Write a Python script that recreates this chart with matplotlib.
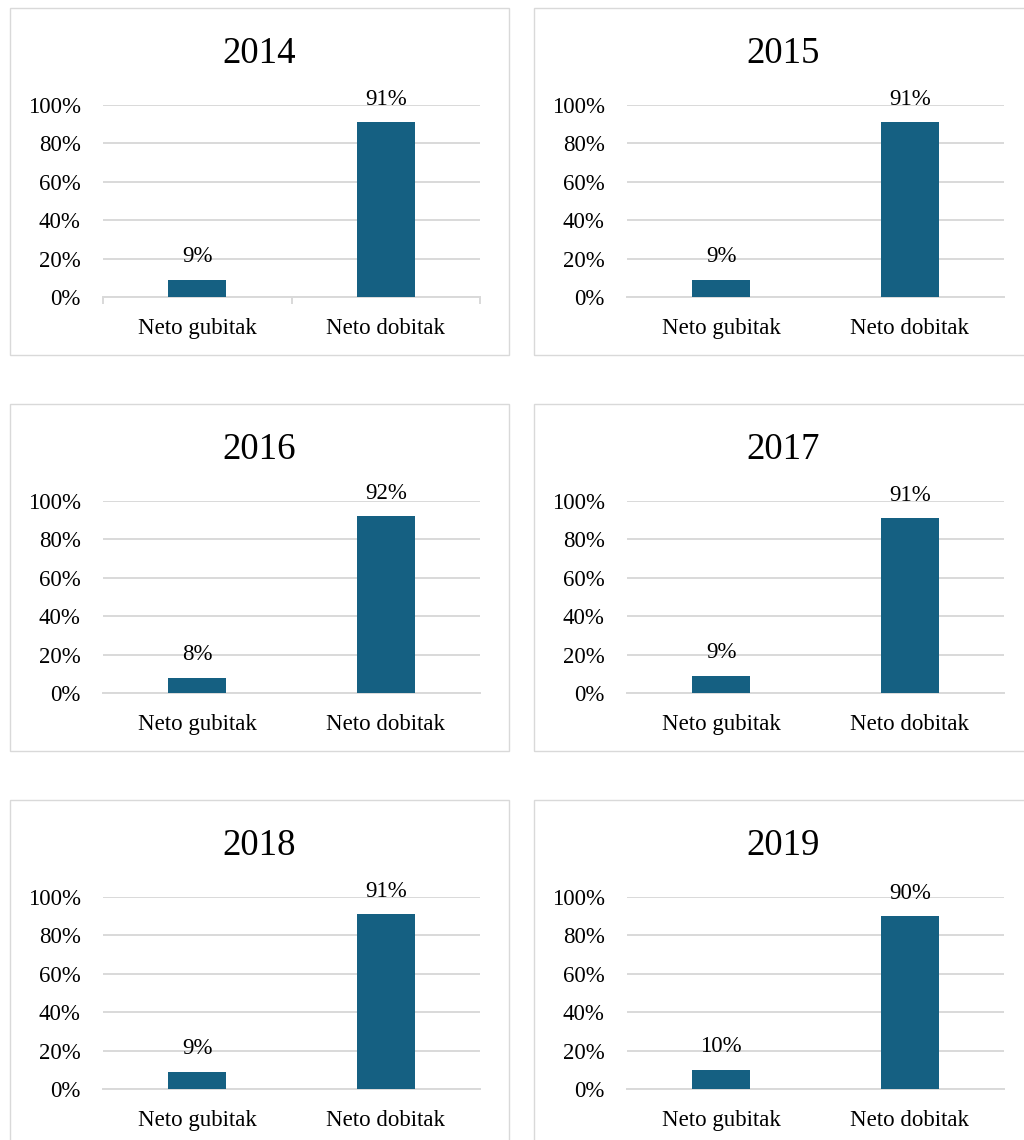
#!/usr/bin/env python3
"""Share of companies with net loss vs net profit, 2014-2019."""

import matplotlib.pyplot as plt
from matplotlib.patches import Rectangle
from matplotlib.ticker import PercentFormatter

YEARS = ['2014', '2015', '2016', '2017', '2018', '2019']
CATEGORIES = ['Neto gubitak', 'Neto dobitak']
GUBITAK = [9, 9, 8, 9, 9, 10]
DOBITAK = [91, 91, 92, 91, 91, 90]

W, H = 1024, 1140
BAR_COLOR = '#156082'
GRID_COLOR = '#d9d9d9'

plt.rcParams['font.family'] = ['Liberation Serif', 'DejaVu Serif']


def px_box(left, top, width, height):
    """Pixel rectangle (top-left origin) to figure fraction rect."""
    return [left / W, 1 - (top + height) / H, width / W, height / H]


fig = plt.figure(figsize=(W / 100, H / 100), dpi=100)

for i, year in enumerate(YEARS):
    row, col = divmod(i, 2)
    dy = row * 396
    box_left = 10 if col == 0 else 534
    ax_left = 103 if col == 0 else 627

    # panel frame (right/bottom panels run past the page edge)
    box = Rectangle((box_left / W, 1 - (355 + dy) / H), 499 / W, 347 / H,
                    transform=fig.transFigure, fill=False,
                    edgecolor=GRID_COLOR, linewidth=1.0)
    fig.patches.append(box)

    fig.text((box_left + 249.5) / W, 1 - (63 + dy) / H, year,
             ha='center', va='baseline', fontsize=26.5)

    ax = fig.add_axes(px_box(ax_left, 105 + dy, 377, 192))
    vals = [GUBITAK[i] / 100, DOBITAK[i] / 100]
    bars = ax.bar(range(2), vals, width=0.31, color=BAR_COLOR, zorder=3)
    for b, v in zip(bars, vals):
        ax.annotate(f'{round(v * 100)}%', (b.get_x() + b.get_width() / 2, v),
                    xytext=(0, 9), textcoords='offset points',
                    ha='center', va='bottom', fontsize=16.5, annotation_clip=False)

    ax.set_xlim(-0.5, 1.5)
    ax.set_ylim(0, 1)
    ax.set_yticks([0, 0.2, 0.4, 0.6, 0.8, 1.0])
    ax.yaxis.set_major_formatter(PercentFormatter(1.0, decimals=0))
    ax.grid(axis='y', color=GRID_COLOR, linewidth=1.4, zorder=0)
    ax.set_xticks(range(2))
    ax.set_xticklabels(CATEGORIES)
    ax.tick_params(axis='y', length=0, pad=16, labelsize=16.5)
    ax.tick_params(axis='x', length=0, pad=15, labelsize=16.5)
    for s in ['top', 'right', 'left']:
        ax.spines[s].set_visible(False)
    ax.spines['bottom'].set_color(GRID_COLOR)
    ax.spines['bottom'].set_linewidth(1.4)

    if i == 0:
        # only the first chart shows category tick marks
        ax.set_xticks([-0.5, 0.5, 1.5], minor=True)
        ax.tick_params(axis='x', which='minor', length=5, width=1.4,
                       color=GRID_COLOR)

fig.savefig('out.png', dpi=100)
